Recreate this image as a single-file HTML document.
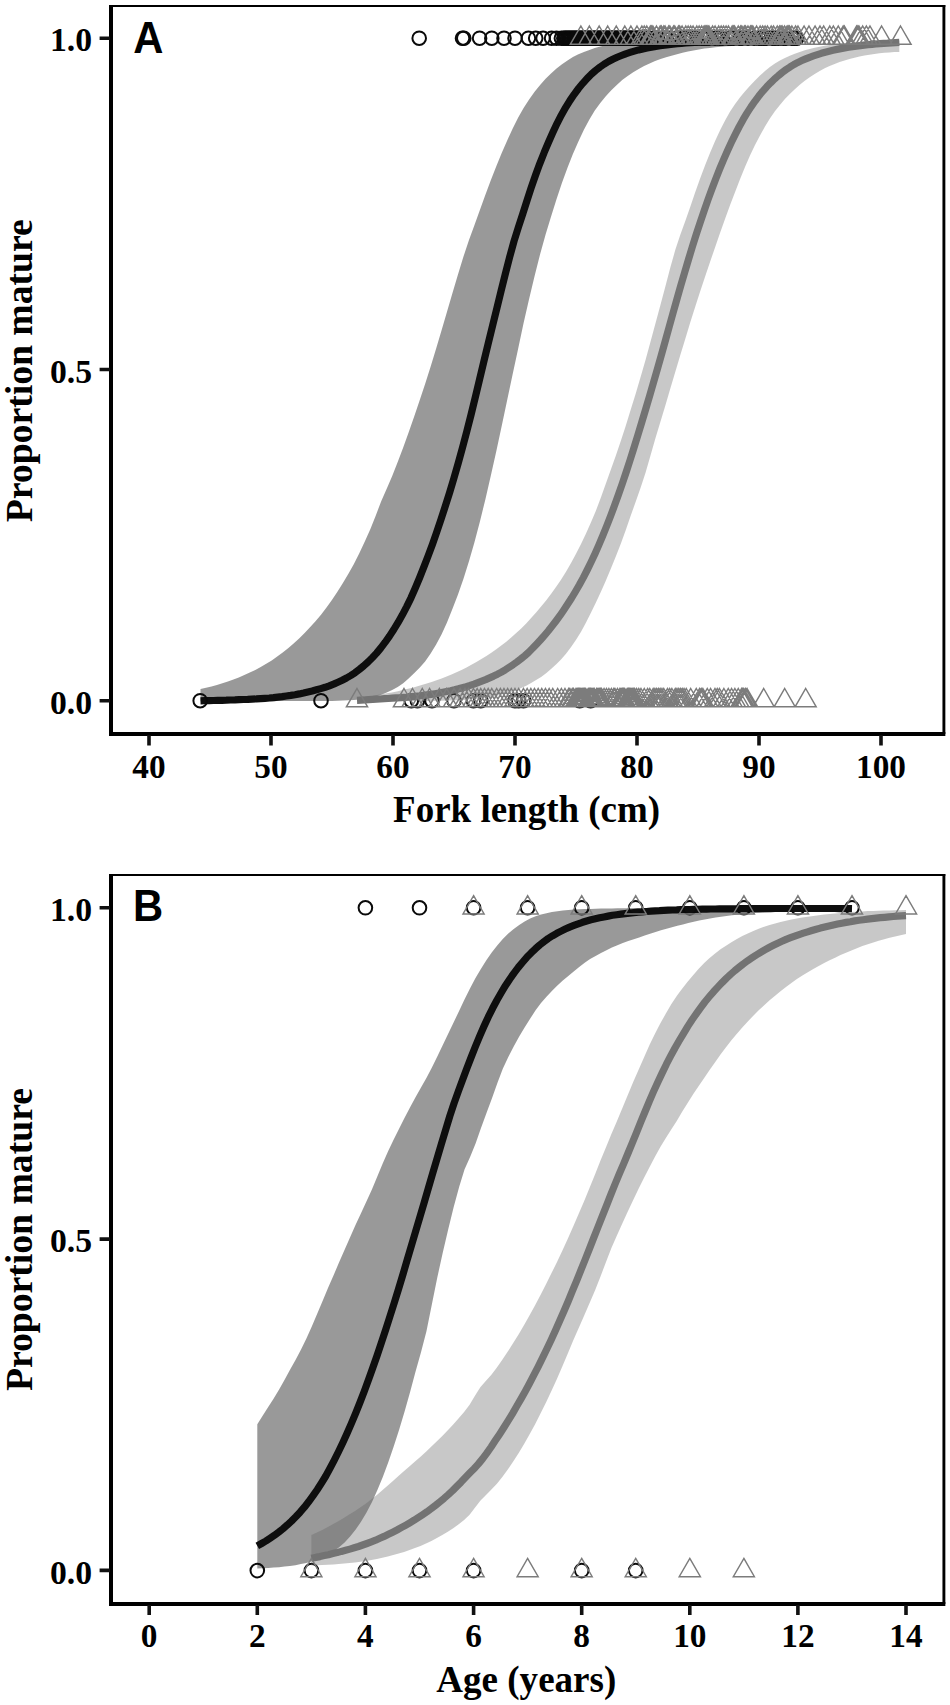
<!DOCTYPE html>
<html lang="en"><head><meta charset="utf-8"><title>Proportion mature by fork length and age</title>
<style>html,body{margin:0;padding:0;background:#fff}svg{display:block}</style></head>
<body>
<svg width="950" height="1705" viewBox="0 0 950 1705">
<rect width="950" height="1705" fill="#fff"/>
<path d="M200.5,689.1 L206,687.8 L211.5,686.4 L216.9,684.9 L222.4,683.3 L227.9,681.5 L233.4,679.5 L238.8,677.4 L244.3,675.1 L249.8,672.6 L255.3,669.9 L260.7,667 L266.2,663.8 L271.7,660.4 L277.2,656.6 L282.7,652.6 L288.1,648.2 L293.6,643.5 L299.1,638.5 L304.6,633.1 L310,627.3 L315.5,621.3 L321,614.7 L326.5,607.6 L331.9,600 L337.4,591.8 L342.9,583.1 L348.4,573.8 L353.9,564 L359.3,553.3 L364.8,541.6 L370.3,529.2 L375.8,515.4 L381.2,501.3 L386.7,488.8 L392.2,476 L397.7,462.1 L403.2,447.6 L408.6,432.5 L414.1,416.8 L419.6,400.6 L425.1,384 L430.5,366.9 L436,349 L441.5,330.5 L447,311.8 L452.4,293.2 L457.9,274.7 L463.4,256.8 L468.9,240.3 L474.4,225.2 L479.8,210.2 L485.3,195 L490.8,180.3 L496.3,166.3 L501.7,153 L507.2,140.5 L512.7,128.4 L518.2,117.5 L523.6,107.9 L529.1,99.4 L534.6,91.8 L540.1,84.9 L545.6,78.8 L551,73.4 L556.5,68.6 L562,64.3 L567.5,60.4 L572.9,57.1 L578.4,54.3 L583.9,51.9 L589.4,49.9 L594.8,48.1 L600.3,46.6 L605.8,45.3 L611.3,44.2 L616.8,43.3 L622.2,42.5 L627.7,41.9 L633.2,41.3 L638.7,40.9 L644.1,40.6 L649.6,40.3 L655.1,40 L660.6,39.7 L666.1,39.5 L671.5,39.3 L677,39.1 L682.5,38.9 L688,38.8 L693.4,38.7 L698.9,38.6 L704.4,38.5 L709.9,38.5 L715.3,38.4 L720.8,38.4 L726.3,38.3 L731.8,38.3 L737.3,38.3 L742.7,38.2 L748.2,38.2 L753.7,38.2 L759.2,38.1 L764.6,38.1 L770.1,38.1 L775.6,38.1 L781.1,38.1 L786.5,38.1 L792,38.1 L797.5,38.1 L797.5,43.5 L792,43.5 L786.5,43.6 L781.1,43.7 L775.6,43.8 L770.1,44 L764.6,44.2 L759.2,44.4 L753.7,44.7 L748.2,44.9 L742.7,45.2 L737.3,45.6 L731.8,45.9 L726.3,46.3 L720.8,46.8 L715.3,47.3 L709.9,47.9 L704.4,48.6 L698.9,49.5 L693.4,50.4 L688,51.6 L682.5,52.8 L677,54.2 L671.5,55.7 L666.1,57.3 L660.6,59.1 L655.1,61.1 L649.6,63.4 L644.1,66 L638.7,68.9 L633.2,72.2 L627.7,75.9 L622.2,80.1 L616.8,84.9 L611.3,90.2 L605.8,96.2 L600.3,102.9 L594.8,110.6 L589.4,119.5 L583.9,129.8 L578.4,141.4 L572.9,154 L567.5,167.7 L562,182.8 L556.5,199.2 L551,216.7 L545.6,234.6 L540.1,254.3 L534.6,276 L529.1,299 L523.6,323.1 L518.2,348.4 L512.7,374.1 L507.2,400.1 L501.7,426 L496.3,451.3 L490.8,475.8 L485.3,499.7 L479.8,522 L474.4,542.4 L468.9,561.6 L463.4,579.1 L457.9,594.8 L452.4,609.1 L447,622.5 L441.5,634.5 L436,644.8 L430.5,653.8 L425.1,661.4 L419.6,667.7 L414.1,673.3 L408.6,678.6 L403.2,683.2 L397.7,686.9 L392.2,690 L386.7,692.6 L381.2,694.7 L375.8,696.4 L370.3,697.6 L364.8,698.6 L359.3,699.4 L353.9,699.9 L348.4,700.3 L342.9,700.6 L337.4,700.8 L331.9,700.9 L326.5,700.9 L321,700.9 L315.5,700.9 L310,701 L304.6,701 L299.1,701 L293.6,701.1 L288.1,701.1 L282.7,701.1 L277.2,701.1 L271.7,701.2 L266.2,701.2 L260.7,701.2 L255.3,701.2 L249.8,701.2 L244.3,701.2 L238.8,701.2 L233.4,701.2 L227.9,701.3 L222.4,701.3 L216.9,701.3 L211.5,701.3 L206,701.3 L200.5,701.3Z" fill="#000" fill-opacity="0.4"/>
<path d="M200.5,700.8 L204.8,700.7 L209.1,700.6 L213.4,700.5 L217.7,700.4 L222,700.3 L226.3,700.2 L230.6,700 L234.9,699.9 L239.2,699.7 L243.4,699.5 L247.7,699.4 L252,699.1 L256.3,698.9 L260.6,698.6 L264.9,698.3 L269.2,698 L273.5,697.6 L277.8,697.1 L282.1,696.6 L286.4,696 L290.7,695.4 L295,694.7 L299.3,693.9 L303.6,693 L307.9,692 L312.2,691 L316.5,689.8 L320.8,688.6 L325.1,687.3 L329.3,685.8 L333.6,684.1 L337.9,682.2 L342.2,680.2 L346.5,678 L350.8,675.5 L355.1,672.7 L359.4,669.4 L363.7,665.9 L368,662 L372.3,657.7 L376.6,653.1 L380.9,647.9 L385.2,642.2 L389.5,636.1 L393.8,629.5 L398.1,622.4 L402.4,614.8 L406.7,606.6 L411,597.8 L415.2,588.2 L419.5,578 L423.8,567.2 L428.1,556 L432.4,544.4 L436.7,532.1 L441,519.3 L445.3,506.2 L449.6,492.6 L453.9,478.3 L458.2,463.2 L462.5,447.6 L466.8,431.4 L471.1,414.5 L475.4,396.8 L479.7,378.8 L484,360.9 L488.3,343.2 L492.6,325.7 L496.9,308.2 L501.1,290.8 L505.4,273.6 L509.7,256.9 L514,241.3 L518.3,227.5 L522.6,214.4 L526.9,200.8 L531.2,187.6 L535.5,175.3 L539.8,163.6 L544.1,152.7 L548.4,142.5 L552.7,132.8 L557,123.6 L561.3,115.2 L565.6,107.6 L569.9,100.6 L574.2,94.3 L578.5,88.5 L582.8,83.3 L587,78.6 L591.3,74.3 L595.6,70.5 L599.9,67.1 L604.2,64.1 L608.5,61.5 L612.8,59.3 L617.1,57.3 L621.4,55.5 L625.7,53.8 L630,52.4 L634.3,51.1 L638.6,49.9 L642.9,48.9 L647.2,48 L651.5,47.2 L655.8,46.4 L660.1,45.8 L664.4,45.2 L668.7,44.6 L672.9,44.2 L677.2,43.7 L681.5,43.3 L685.8,43 L690.1,42.6 L694.4,42.3 L698.7,42 L703,41.8 L707.3,41.5 L711.6,41.3 L715.9,41.1 L720.2,40.9 L724.5,40.7 L728.8,40.6 L733.1,40.5 L737.4,40.3 L741.7,40.2 L746,40.1 L750.3,40.1 L754.6,40 L758.8,39.9 L763.1,39.9 L767.4,39.8 L771.7,39.8 L776,39.7 L780.3,39.7 L784.6,39.7 L788.9,39.7 L793.2,39.8 L797.5,39.8" fill="none" stroke="#0e0e0e" stroke-width="7.2" stroke-linecap="butt" stroke-linejoin="round"/>
<g fill="none" stroke="#0a0a0a" stroke-width="2"><circle cx="419.2" cy="38.2" r="6.8"/><circle cx="462.5" cy="38.2" r="6.8"/><circle cx="463.8" cy="38.2" r="6.8"/><circle cx="479.6" cy="38.2" r="6.8"/><circle cx="491.8" cy="38.2" r="6.8"/><circle cx="504" cy="38.2" r="6.8"/><circle cx="515" cy="38.2" r="6.8"/><circle cx="528.4" cy="38.2" r="6.8"/><circle cx="535.7" cy="38.2" r="6.8"/><circle cx="543.1" cy="38.2" r="6.8"/><circle cx="551.6" cy="38.2" r="6.8"/><circle cx="556.5" cy="38.2" r="6.8"/><circle cx="561.4" cy="38.2" r="6.8"/><circle cx="563.8" cy="38.2" r="6.8"/><circle cx="565" cy="38.2" r="6.8"/><circle cx="566.2" cy="38.2" r="6.8"/><circle cx="567.5" cy="38.2" r="6.8"/><circle cx="568.7" cy="38.2" r="6.8"/><circle cx="569.9" cy="38.2" r="6.8"/><circle cx="571.1" cy="38.2" r="6.8"/><circle cx="572.3" cy="38.2" r="6.8"/><circle cx="573.6" cy="38.2" r="6.8"/><circle cx="574.8" cy="38.2" r="6.8"/><circle cx="576" cy="38.2" r="6.8"/><circle cx="577.2" cy="38.2" r="6.8"/><circle cx="578.4" cy="38.2" r="6.8"/><circle cx="579.7" cy="38.2" r="6.8"/><circle cx="580.9" cy="38.2" r="6.8"/><circle cx="582.1" cy="38.2" r="6.8"/><circle cx="583.3" cy="38.2" r="6.8"/><circle cx="584.5" cy="38.2" r="6.8"/><circle cx="585.8" cy="38.2" r="6.8"/><circle cx="587" cy="38.2" r="6.8"/><circle cx="588.2" cy="38.2" r="6.8"/><circle cx="589.4" cy="38.2" r="6.8"/><circle cx="590.6" cy="38.2" r="6.8"/><circle cx="591.9" cy="38.2" r="6.8"/><circle cx="593.1" cy="38.2" r="6.8"/><circle cx="594.3" cy="38.2" r="6.8"/><circle cx="595.5" cy="38.2" r="6.8"/><circle cx="596.7" cy="38.2" r="6.8"/><circle cx="598" cy="38.2" r="6.8"/><circle cx="599.2" cy="38.2" r="6.8"/><circle cx="600.4" cy="38.2" r="6.8"/><circle cx="601.6" cy="38.2" r="6.8"/><circle cx="602.8" cy="38.2" r="6.8"/><circle cx="604.1" cy="38.2" r="6.8"/><circle cx="605.3" cy="38.2" r="6.8"/><circle cx="606.5" cy="38.2" r="6.8"/><circle cx="607.7" cy="38.2" r="6.8"/><circle cx="608.9" cy="38.2" r="6.8"/><circle cx="610.2" cy="38.2" r="6.8"/><circle cx="611.4" cy="38.2" r="6.8"/><circle cx="612.6" cy="38.2" r="6.8"/><circle cx="613.8" cy="38.2" r="6.8"/><circle cx="615" cy="38.2" r="6.8"/><circle cx="616.3" cy="38.2" r="6.8"/><circle cx="617.5" cy="38.2" r="6.8"/><circle cx="618.7" cy="38.2" r="6.8"/><circle cx="619.9" cy="38.2" r="6.8"/><circle cx="621.1" cy="38.2" r="6.8"/><circle cx="622.4" cy="38.2" r="6.8"/><circle cx="623.6" cy="38.2" r="6.8"/><circle cx="624.8" cy="38.2" r="6.8"/><circle cx="626" cy="38.2" r="6.8"/><circle cx="627.2" cy="38.2" r="6.8"/><circle cx="628.5" cy="38.2" r="6.8"/><circle cx="629.7" cy="38.2" r="6.8"/><circle cx="630.9" cy="38.2" r="6.8"/><circle cx="632.1" cy="38.2" r="6.8"/><circle cx="633.3" cy="38.2" r="6.8"/><circle cx="634.6" cy="38.2" r="6.8"/><circle cx="635.8" cy="38.2" r="6.8"/><circle cx="637" cy="38.2" r="6.8"/><circle cx="638.2" cy="38.2" r="6.8"/><circle cx="639.4" cy="38.2" r="6.8"/><circle cx="640.7" cy="38.2" r="6.8"/><circle cx="641.9" cy="38.2" r="6.8"/><circle cx="645.5" cy="38.2" r="6.8"/><circle cx="648" cy="38.2" r="6.8"/><circle cx="652.9" cy="38.2" r="6.8"/><circle cx="655.3" cy="38.2" r="6.8"/><circle cx="657.7" cy="38.2" r="6.8"/><circle cx="663.8" cy="38.2" r="6.8"/><circle cx="666.3" cy="38.2" r="6.8"/><circle cx="669.9" cy="38.2" r="6.8"/><circle cx="676" cy="38.2" r="6.8"/><circle cx="678.5" cy="38.2" r="6.8"/><circle cx="684.6" cy="38.2" r="6.8"/><circle cx="687" cy="38.2" r="6.8"/><circle cx="689.5" cy="38.2" r="6.8"/><circle cx="691.9" cy="38.2" r="6.8"/><circle cx="696.8" cy="38.2" r="6.8"/><circle cx="701.7" cy="38.2" r="6.8"/><circle cx="704.1" cy="38.2" r="6.8"/><circle cx="706.5" cy="38.2" r="6.8"/><circle cx="709" cy="38.2" r="6.8"/><circle cx="715.1" cy="38.2" r="6.8"/><circle cx="720" cy="38.2" r="6.8"/><circle cx="722.4" cy="38.2" r="6.8"/><circle cx="728.5" cy="38.2" r="6.8"/><circle cx="730.9" cy="38.2" r="6.8"/><circle cx="733.4" cy="38.2" r="6.8"/><circle cx="739.5" cy="38.2" r="6.8"/><circle cx="741.9" cy="38.2" r="6.8"/><circle cx="748" cy="38.2" r="6.8"/><circle cx="754.1" cy="38.2" r="6.8"/><circle cx="759" cy="38.2" r="6.8"/><circle cx="761.4" cy="38.2" r="6.8"/><circle cx="763.9" cy="38.2" r="6.8"/><circle cx="766.3" cy="38.2" r="6.8"/><circle cx="772.4" cy="38.2" r="6.8"/><circle cx="774.9" cy="38.2" r="6.8"/><circle cx="778.5" cy="38.2" r="6.8"/><circle cx="783.4" cy="38.2" r="6.8"/><circle cx="785.8" cy="38.2" r="6.8"/><circle cx="791.9" cy="38.2" r="6.8"/><circle cx="794.4" cy="38.2" r="6.8"/><circle cx="796.8" cy="38.2" r="6.8"/><circle cx="200.2" cy="700.7" r="6.8"/><circle cx="321" cy="700.7" r="6.8"/><circle cx="411.3" cy="700.7" r="6.8"/><circle cx="417.4" cy="700.7" r="6.8"/><circle cx="432" cy="700.7" r="6.8"/><circle cx="454" cy="700.7" r="6.8"/><circle cx="473.5" cy="700.7" r="6.8"/><circle cx="480.8" cy="700.7" r="6.8"/><circle cx="515" cy="700.7" r="6.8"/><circle cx="518.7" cy="700.7" r="6.8"/><circle cx="523.5" cy="700.7" r="6.8"/><circle cx="579.7" cy="700.7" r="6.8"/><circle cx="590.6" cy="700.7" r="6.8"/></g>
<path d="M357,697.4 L362,696.8 L367,696.3 L371.9,695.6 L376.9,694.9 L381.9,694.2 L386.9,693.3 L391.8,692.4 L396.8,691.4 L401.8,690.3 L406.8,689.1 L411.7,687.9 L416.7,686.5 L421.7,685.1 L426.7,683.5 L431.6,681.9 L436.6,680.2 L441.6,678.4 L446.6,676.4 L451.5,674.4 L456.5,672.2 L461.5,669.9 L466.5,667.4 L471.4,664.8 L476.4,662 L481.4,659.1 L486.4,656 L491.3,652.7 L496.3,649.2 L501.3,645.5 L506.3,641.7 L511.2,637.5 L516.2,633.1 L521.2,628.4 L526.2,623.4 L531.1,618.1 L536.1,612.5 L541.1,606.6 L546.1,600.4 L551,593.9 L556,587.1 L561,579.7 L566,571.7 L570.9,563.2 L575.9,554 L580.9,544.2 L585.9,533.8 L590.8,522.7 L595.8,511 L600.8,497.8 L605.8,483.8 L610.7,470.1 L615.7,455.9 L620.7,441.2 L625.7,425.9 L630.6,410.1 L635.6,393.9 L640.6,377.1 L645.6,359.7 L650.5,341.7 L655.5,323.3 L660.5,304.8 L665.5,286.1 L670.4,267.3 L675.4,249.6 L680.4,234.4 L685.4,220.8 L690.3,206.7 L695.3,192 L700.3,178 L705.3,164.8 L710.2,152.4 L715.2,140.8 L720.2,130.1 L725.2,120.3 L730.1,111.5 L735.1,103.9 L740.1,97.2 L745.1,91.2 L750,85.7 L755,80.6 L760,75.6 L765,71 L769.9,67 L774.9,63.6 L779.9,60.6 L784.9,58 L789.8,55.7 L794.8,53.7 L799.8,51.9 L804.8,50.3 L809.7,49 L814.7,47.8 L819.7,46.7 L824.7,45.8 L829.6,45 L834.6,44.3 L839.6,43.7 L844.6,43.1 L849.5,42.7 L854.5,42.2 L859.5,41.9 L864.5,41.6 L869.4,41.3 L874.4,41.1 L879.4,40.9 L884.4,40.7 L889.3,40.6 L894.3,40.4 L899.3,40.4 L899.3,51.9 L894.3,52.1 L889.3,52.4 L884.4,52.8 L879.4,53.3 L874.4,54 L869.4,54.7 L864.5,55.6 L859.5,56.6 L854.5,57.7 L849.5,58.9 L844.6,60.4 L839.6,62 L834.6,63.9 L829.6,65.9 L824.7,68.3 L819.7,70.9 L814.7,73.9 L809.7,77.2 L804.8,80.8 L799.8,84.8 L794.8,89.2 L789.8,93.9 L784.9,99.1 L779.9,104.9 L774.9,111.3 L769.9,118.5 L765,126.6 L760,135.4 L755,145 L750,155.4 L745.1,166.8 L740.1,179.1 L735.1,191.9 L730.1,205.1 L725.2,218.5 L720.2,232.5 L715.2,247 L710.2,261.5 L705.3,276 L700.3,290.9 L695.3,306.4 L690.3,322.3 L685.4,338.4 L680.4,354.8 L675.4,371.5 L670.4,388.3 L665.5,405 L660.5,421.6 L655.5,438.1 L650.5,455.4 L645.6,472.4 L640.6,487.7 L635.6,501.9 L630.6,516.1 L625.7,530.3 L620.7,543.9 L615.7,556.8 L610.7,569.1 L605.8,580.8 L600.8,592 L595.8,602.7 L590.8,612.9 L585.9,622.8 L580.9,632 L575.9,640.1 L570.9,647.2 L566,653.7 L561,659.5 L556,664.6 L551,669.1 L546.1,673.3 L541.1,676.9 L536.1,680.1 L531.1,683.1 L526.2,685.8 L521.2,688.1 L516.2,690.1 L511.2,691.8 L506.3,693.3 L501.3,694.6 L496.3,695.9 L491.3,696.9 L486.4,697.7 L481.4,698.4 L476.4,698.9 L471.4,699.4 L466.5,699.8 L461.5,700.1 L456.5,700.3 L451.5,700.5 L446.6,700.6 L441.6,700.7 L436.6,700.8 L431.6,700.9 L426.7,700.9 L421.7,701 L416.7,701 L411.7,701.1 L406.8,701.1 L401.8,701.2 L396.8,701.2 L391.8,701.2 L386.9,701.3 L381.9,701.3 L376.9,701.3 L371.9,701.3 L367,701.3 L362,701.3 L357,701.3Z" fill="#666" fill-opacity="0.355"/>
<path d="M357,700.4 L360.9,700.2 L364.8,700 L368.7,699.7 L372.6,699.5 L376.5,699.2 L380.4,699 L384.3,698.7 L388.2,698.5 L392.1,698.2 L396,697.9 L399.9,697.7 L403.8,697.4 L407.7,697.1 L411.6,696.7 L415.5,696.3 L419.4,695.9 L423.3,695.4 L427.2,694.9 L431.1,694.4 L435,693.7 L438.9,693.1 L442.8,692.3 L446.7,691.5 L450.6,690.7 L454.5,689.8 L458.4,688.8 L462.3,687.7 L466.2,686.6 L470.1,685.4 L474,684.1 L477.9,682.6 L481.8,681.1 L485.7,679.6 L489.6,677.9 L493.6,676.1 L497.5,674.2 L501.4,672.1 L505.3,669.8 L509.2,667.3 L513.1,664.7 L517,661.9 L520.9,658.9 L524.8,655.7 L528.7,652.2 L532.6,648.3 L536.5,644.2 L540.4,640 L544.3,635.6 L548.2,631 L552.1,626.1 L556,621 L559.9,615.7 L563.8,610 L567.7,604.1 L571.6,598 L575.5,591.5 L579.4,584.8 L583.3,577.6 L587.2,570 L591.1,562 L595,553.7 L598.9,544.9 L602.8,535.7 L606.7,526 L610.6,516 L614.5,505.6 L618.4,494.8 L622.3,483.6 L626.2,472 L630.1,460 L634,447.7 L637.9,435 L641.8,422.1 L645.7,409.1 L649.6,396 L653.5,382.6 L657.4,369 L661.3,355.2 L665.2,341.2 L669.1,327.1 L673,313.1 L676.9,299.3 L680.8,285.6 L684.7,272.2 L688.6,259.1 L692.5,246.3 L696.4,233.9 L700.3,222.1 L704.2,210.6 L708.1,199.4 L712,188.7 L715.9,178.4 L719.8,168.6 L723.7,159.3 L727.6,150.5 L731.5,142.1 L735.4,134.1 L739.3,126.5 L743.2,119.4 L747.1,112.9 L751,106.9 L754.9,101.3 L758.8,96.1 L762.7,91.3 L766.7,86.8 L770.6,82.8 L774.5,79 L778.4,75.6 L782.3,72.4 L786.2,69.5 L790.1,66.9 L794,64.5 L797.9,62.4 L801.8,60.6 L805.7,58.9 L809.6,57.3 L813.5,55.9 L817.4,54.6 L821.3,53.3 L825.2,52.2 L829.1,51.2 L833,50.2 L836.9,49.4 L840.8,48.6 L844.7,47.9 L848.6,47.2 L852.5,46.6 L856.4,46.1 L860.3,45.6 L864.2,45.1 L868.1,44.7 L872,44.3 L875.9,44 L879.8,43.6 L883.7,43.3 L887.6,43.1 L891.5,42.8 L895.4,42.6 L899.3,42.4" fill="none" stroke="#737373" stroke-width="7.2" stroke-linecap="butt" stroke-linejoin="round"/>
<path fill="none" stroke="#7c7c7c" stroke-width="1.45" stroke-linejoin="miter" d="M580.9,26 L591.4,44.3 L570.3,44.3Z M589.4,26 L600,44.3 L578.9,44.3Z M599.2,26 L609.7,44.3 L588.6,44.3Z M607.7,26 L618.3,44.3 L597.2,44.3Z M616.3,26 L626.8,44.3 L605.7,44.3Z M624.8,26 L635.4,44.3 L614.2,44.3Z M630.9,26 L641.5,44.3 L620.3,44.3Z M637,26 L647.6,44.3 L626.4,44.3Z M641.9,26 L652.4,44.3 L631.3,44.3Z M644.3,26 L654.9,44.3 L633.8,44.3Z M646.8,26 L657.3,44.3 L636.2,44.3Z M650.4,26 L661,44.3 L639.9,44.3Z M651.6,26 L662.2,44.3 L641.1,44.3Z M652.9,26 L663.4,44.3 L642.3,44.3Z M656.5,26 L667.1,44.3 L646,44.3Z M660.2,26 L670.7,44.3 L649.6,44.3Z M661.4,26 L672,44.3 L650.8,44.3Z M663.8,26 L674.4,44.3 L653.3,44.3Z M665.1,26 L675.6,44.3 L654.5,44.3Z M668.7,26 L679.3,44.3 L658.2,44.3Z M669.9,26 L680.5,44.3 L659.4,44.3Z M673.6,26 L684.2,44.3 L663,44.3Z M674.8,26 L685.4,44.3 L664.3,44.3Z M678.5,26 L689,44.3 L667.9,44.3Z M679.7,26 L690.3,44.3 L669.1,44.3Z M682.1,26 L692.7,44.3 L671.6,44.3Z M685.8,26 L696.4,44.3 L675.2,44.3Z M688.2,26 L698.8,44.3 L677.7,44.3Z M690.7,26 L701.2,44.3 L680.1,44.3Z M693.1,26 L703.7,44.3 L682.6,44.3Z M696.8,26 L707.3,44.3 L686.2,44.3Z M699.2,26 L709.8,44.3 L688.7,44.3Z M701.7,26 L712.2,44.3 L691.1,44.3Z M704.1,26 L714.7,44.3 L693.5,44.3Z M705.3,26 L715.9,44.3 L694.8,44.3Z M706.5,26 L717.1,44.3 L696,44.3Z M707.8,26 L718.3,44.3 L697.2,44.3Z M709,26 L719.5,44.3 L698.4,44.3Z M712.6,26 L723.2,44.3 L702.1,44.3Z M715.1,26 L725.6,44.3 L704.5,44.3Z M718.7,26 L729.3,44.3 L708.2,44.3Z M721.2,26 L731.7,44.3 L710.6,44.3Z M723.6,26 L734.2,44.3 L713.1,44.3Z M726.1,26 L736.6,44.3 L715.5,44.3Z M728.5,26 L739.1,44.3 L717.9,44.3Z M732.2,26 L742.7,44.3 L721.6,44.3Z M733.4,26 L743.9,44.3 L722.8,44.3Z M734.6,26 L745.2,44.3 L724,44.3Z M738.3,26 L748.8,44.3 L727.7,44.3Z M740.7,26 L751.3,44.3 L730.1,44.3Z M741.9,26 L752.5,44.3 L731.4,44.3Z M744.4,26 L754.9,44.3 L733.8,44.3Z M745.6,26 L756.1,44.3 L735,44.3Z M748,26 L758.6,44.3 L737.5,44.3Z M750.5,26 L761,44.3 L739.9,44.3Z M751.7,26 L762.2,44.3 L741.1,44.3Z M752.9,26 L763.5,44.3 L742.3,44.3Z M756.6,26 L767.1,44.3 L746,44.3Z M760.2,26 L770.8,44.3 L749.7,44.3Z M762.7,26 L773.2,44.3 L752.1,44.3Z M765.1,26 L775.7,44.3 L754.5,44.3Z M767.5,26 L778.1,44.3 L757,44.3Z M771.2,26 L781.8,44.3 L760.6,44.3Z M773.6,26 L784.2,44.3 L763.1,44.3Z M777.3,26 L787.9,44.3 L766.7,44.3Z M779.7,26 L790.3,44.3 L769.2,44.3Z M781,26 L791.5,44.3 L770.4,44.3Z M782.2,26 L792.7,44.3 L771.6,44.3Z M784.6,26 L795.2,44.3 L774.1,44.3Z M787.1,26 L797.6,44.3 L776.5,44.3Z M788.3,26 L798.8,44.3 L777.7,44.3Z M789.5,26 L800.1,44.3 L778.9,44.3Z M791.9,26 L802.5,44.3 L781.4,44.3Z M795.6,26 L806.2,44.3 L785,44.3Z M798,26 L808.6,44.3 L787.5,44.3Z M804.1,26 L814.7,44.3 L793.6,44.3Z M809,26 L819.6,44.3 L798.5,44.3Z M815.1,26 L825.7,44.3 L804.6,44.3Z M820,26 L830.6,44.3 L809.4,44.3Z M823.7,26 L834.2,44.3 L813.1,44.3Z M829.8,26 L840.3,44.3 L819.2,44.3Z M833.4,26 L844,44.3 L822.9,44.3Z M838.3,26 L848.9,44.3 L827.7,44.3Z M843.2,26 L853.7,44.3 L832.6,44.3Z M844.4,26 L855,44.3 L833.8,44.3Z M856.6,26 L867.2,44.3 L846,44.3Z M857.8,26 L868.4,44.3 L847.3,44.3Z M859,26 L869.6,44.3 L848.5,44.3Z M862.7,26 L873.3,44.3 L852.1,44.3Z M866.4,26 L876.9,44.3 L855.8,44.3Z M870,26 L880.6,44.3 L859.5,44.3Z M881.6,26 L892.2,44.3 L871,44.3Z M900.5,26 L911.1,44.3 L890,44.3Z M357,688.5 L367.6,706.8 L346.4,706.8Z M404,688.5 L414.5,706.8 L393.4,706.8Z M412.5,688.5 L423.1,706.8 L402,706.8Z M422.3,688.5 L432.8,706.8 L411.7,706.8Z M429.6,688.5 L440.2,706.8 L419,706.8Z M439.4,688.5 L449.9,706.8 L428.8,706.8Z M446.7,688.5 L457.2,706.8 L436.1,706.8Z M454,688.5 L464.6,706.8 L443.4,706.8Z M460.1,688.5 L470.7,706.8 L449.5,706.8Z M465,688.5 L475.5,706.8 L454.4,706.8Z M468.6,688.5 L479.2,706.8 L458.1,706.8Z M473.5,688.5 L484.1,706.8 L463,706.8Z M477.2,688.5 L487.7,706.8 L466.6,706.8Z M480.8,688.5 L491.4,706.8 L470.3,706.8Z M484.5,688.5 L495.1,706.8 L473.9,706.8Z M488.2,688.5 L498.7,706.8 L477.6,706.8Z M491.8,688.5 L502.4,706.8 L481.3,706.8Z M496.7,688.5 L507.3,706.8 L486.1,706.8Z M500.4,688.5 L510.9,706.8 L489.8,706.8Z M504,688.5 L514.6,706.8 L493.5,706.8Z M507.7,688.5 L518.2,706.8 L497.1,706.8Z M511.3,688.5 L521.9,706.8 L500.8,706.8Z M515,688.5 L525.6,706.8 L504.4,706.8Z M518.7,688.5 L529.2,706.8 L508.1,706.8Z M523.5,688.5 L534.1,706.8 L513,706.8Z M527.2,688.5 L537.8,706.8 L516.6,706.8Z M530.9,688.5 L541.4,706.8 L520.3,706.8Z M534.5,688.5 L545.1,706.8 L524,706.8Z M538.2,688.5 L548.7,706.8 L527.6,706.8Z M541.8,688.5 L552.4,706.8 L531.3,706.8Z M545.5,688.5 L556.1,706.8 L534.9,706.8Z M549.2,688.5 L559.7,706.8 L538.6,706.8Z M552.8,688.5 L563.4,706.8 L542.3,706.8Z M557.7,688.5 L568.3,706.8 L547.1,706.8Z M561.4,688.5 L571.9,706.8 L550.8,706.8Z M565,688.5 L575.6,706.8 L554.5,706.8Z M568.7,688.5 L579.2,706.8 L558.1,706.8Z M569.9,688.5 L580.5,706.8 L559.3,706.8Z M572.3,688.5 L582.9,706.8 L561.8,706.8Z M573.6,688.5 L584.1,706.8 L563,706.8Z M576,688.5 L586.6,706.8 L565.4,706.8Z M577.2,688.5 L587.8,706.8 L566.7,706.8Z M578.4,688.5 L589,706.8 L567.9,706.8Z M579.7,688.5 L590.2,706.8 L569.1,706.8Z M580.9,688.5 L591.4,706.8 L570.3,706.8Z M582.1,688.5 L592.7,706.8 L571.5,706.8Z M583.3,688.5 L593.9,706.8 L572.8,706.8Z M584.5,688.5 L595.1,706.8 L574,706.8Z M585.8,688.5 L596.3,706.8 L575.2,706.8Z M588.2,688.5 L598.8,706.8 L577.6,706.8Z M589.4,688.5 L600,706.8 L578.9,706.8Z M590.6,688.5 L601.2,706.8 L580.1,706.8Z M591.9,688.5 L602.4,706.8 L581.3,706.8Z M593.1,688.5 L603.6,706.8 L582.5,706.8Z M594.3,688.5 L604.9,706.8 L583.7,706.8Z M596.7,688.5 L607.3,706.8 L586.2,706.8Z M598,688.5 L608.5,706.8 L587.4,706.8Z M599.2,688.5 L609.7,706.8 L588.6,706.8Z M600.4,688.5 L611,706.8 L589.8,706.8Z M601.6,688.5 L612.2,706.8 L591.1,706.8Z M604.1,688.5 L614.6,706.8 L593.5,706.8Z M606.5,688.5 L617.1,706.8 L595.9,706.8Z M608.9,688.5 L619.5,706.8 L598.4,706.8Z M611.4,688.5 L621.9,706.8 L600.8,706.8Z M613.8,688.5 L624.4,706.8 L603.3,706.8Z M615,688.5 L625.6,706.8 L604.5,706.8Z M617.5,688.5 L628,706.8 L606.9,706.8Z M619.9,688.5 L630.5,706.8 L609.4,706.8Z M621.1,688.5 L631.7,706.8 L610.6,706.8Z M622.4,688.5 L632.9,706.8 L611.8,706.8Z M623.6,688.5 L634.1,706.8 L613,706.8Z M624.8,688.5 L635.4,706.8 L614.2,706.8Z M627.2,688.5 L637.8,706.8 L616.7,706.8Z M628.5,688.5 L639,706.8 L617.9,706.8Z M629.7,688.5 L640.2,706.8 L619.1,706.8Z M630.9,688.5 L641.5,706.8 L620.3,706.8Z M632.1,688.5 L642.7,706.8 L621.6,706.8Z M633.3,688.5 L643.9,706.8 L622.8,706.8Z M634.6,688.5 L645.1,706.8 L624,706.8Z M636.6,688.5 L647.1,706.8 L626,706.8Z M638.8,688.5 L649.4,706.8 L628.2,706.8Z M641,688.5 L651.6,706.8 L630.4,706.8Z M644.3,688.5 L654.9,706.8 L633.7,706.8Z M647.6,688.5 L658.2,706.8 L637.1,706.8Z M649.8,688.5 L660.4,706.8 L639.3,706.8Z M653.2,688.5 L663.7,706.8 L642.6,706.8Z M654.9,688.5 L665.5,706.8 L644.4,706.8Z M656.7,688.5 L667.3,706.8 L646.1,706.8Z M658.5,688.5 L669,706.8 L647.9,706.8Z M660.2,688.5 L670.8,706.8 L649.7,706.8Z M662,688.5 L672.6,706.8 L651.4,706.8Z M663.8,688.5 L674.3,706.8 L653.2,706.8Z M667.5,688.5 L678.1,706.8 L657,706.8Z M669.7,688.5 L680.3,706.8 L659.2,706.8Z M671.9,688.5 L682.5,706.8 L661.4,706.8Z M675.3,688.5 L685.8,706.8 L664.7,706.8Z M677,688.5 L687.6,706.8 L666.5,706.8Z M678.8,688.5 L689.4,706.8 L668.2,706.8Z M680.6,688.5 L691.1,706.8 L670,706.8Z M682.3,688.5 L692.9,706.8 L671.8,706.8Z M684.1,688.5 L694.7,706.8 L673.5,706.8Z M686.3,688.5 L696.9,706.8 L675.7,706.8Z M690.7,688.5 L701.3,706.8 L680.2,706.8Z M696.3,688.5 L706.8,706.8 L685.7,706.8Z M699.6,688.5 L710.1,706.8 L689,706.8Z M701.3,688.5 L711.9,706.8 L690.8,706.8Z M702.9,688.5 L713.5,706.8 L692.3,706.8Z M707.3,688.5 L717.9,706.8 L696.7,706.8Z M710.6,688.5 L721.2,706.8 L700.1,706.8Z M715,688.5 L725.6,706.8 L704.5,706.8Z M717.3,688.5 L727.8,706.8 L706.7,706.8Z M719.5,688.5 L730,706.8 L708.9,706.8Z M723.9,688.5 L734.5,706.8 L713.3,706.8Z M728.3,688.5 L738.9,706.8 L717.7,706.8Z M731.6,688.5 L742.2,706.8 L721.1,706.8Z M734.9,688.5 L745.5,706.8 L724.4,706.8Z M738.3,688.5 L748.8,706.8 L727.7,706.8Z M741.6,688.5 L752.1,706.8 L731,706.8Z M742.7,688.5 L753.2,706.8 L732.1,706.8Z M743.8,688.5 L754.3,706.8 L733.2,706.8Z M745.6,688.5 L756.1,706.8 L735,706.8Z M747.1,688.5 L757.7,706.8 L736.5,706.8Z M763.7,688.5 L774.2,706.8 L753.1,706.8Z M784.7,688.5 L795.2,706.8 L774.1,706.8Z M805.7,688.5 L816.2,706.8 L795.1,706.8Z"/>
<path d="M257.3,1424.3 L262.8,1415.5 L268.2,1406.9 L273.7,1398.5 L279.1,1389.4 L284.6,1379.8 L290,1369.7 L295.5,1359.9 L300.9,1349.7 L306.4,1338.5 L311.9,1326.2 L317.3,1313.4 L322.8,1300.4 L328.2,1287.6 L333.7,1275 L339.1,1262.3 L344.6,1249.7 L350.1,1237.2 L355.5,1225.1 L361,1213.2 L366.4,1201.4 L371.9,1189.4 L377.3,1176.5 L382.8,1163.3 L388.2,1150.9 L393.7,1139.6 L399.2,1128.6 L404.6,1117.8 L410.1,1107.2 L415.5,1097.2 L421,1087.6 L426.4,1077.9 L431.9,1067.5 L437.3,1056.4 L442.8,1045.1 L448.3,1033.6 L453.7,1022.2 L459.2,1010.8 L464.6,999.3 L470.1,988.2 L475.5,977.9 L481,968.7 L486.5,960.1 L491.9,952.3 L497.4,945.2 L502.8,938.9 L508.3,933.5 L513.7,928.9 L519.2,924.9 L524.6,921.5 L530.1,918.6 L535.6,916.3 L541,914.6 L546.5,913.2 L551.9,912.1 L557.4,911.2 L562.8,910.6 L568.3,910 L573.7,909.6 L579.2,909.3 L584.7,909.1 L590.1,908.9 L595.6,908.8 L601,908.6 L606.5,908.5 L611.9,908.4 L617.4,908.3 L622.8,908.2 L628.3,908.2 L633.8,908.1 L639.2,908.1 L644.7,908 L650.1,908 L655.6,908 L661,907.9 L666.5,907.9 L672,907.9 L677.4,907.9 L682.9,907.8 L688.3,907.8 L693.8,907.8 L699.2,907.7 L704.7,907.7 L710.1,907.7 L715.6,907.7 L721.1,907.6 L726.5,907.6 L732,907.6 L737.4,907.6 L742.9,907.6 L748.3,907.5 L753.8,907.5 L759.2,907.5 L764.7,907.5 L770.2,907.5 L775.6,907.5 L781.1,907.4 L786.5,907.4 L792,907.4 L797.4,907.4 L802.9,907.4 L808.4,907.4 L813.8,907.4 L819.3,907.4 L824.7,907.4 L830.2,907.4 L835.6,907.4 L841.1,907.4 L846.5,907.4 L852,907.4 L852,909.3 L846.5,909.4 L841.1,909.4 L835.6,909.5 L830.2,909.6 L824.7,909.7 L819.3,909.8 L813.8,909.9 L808.4,910.1 L802.9,910.2 L797.4,910.4 L792,910.7 L786.5,910.9 L781.1,911.2 L775.6,911.5 L770.2,911.9 L764.7,912.3 L759.2,912.7 L753.8,913.1 L748.3,913.6 L742.9,914.1 L737.4,914.7 L732,915.3 L726.5,916 L721.1,916.7 L715.6,917.5 L710.1,918.4 L704.7,919.4 L699.2,920.5 L693.8,921.7 L688.3,923 L682.9,924.4 L677.4,925.8 L672,927.3 L666.5,928.8 L661,930.3 L655.6,932 L650.1,933.7 L644.7,935.5 L639.2,937.4 L633.8,939.2 L628.3,941 L622.8,943 L617.4,945.2 L611.9,947.6 L606.5,950.2 L601,952.9 L595.6,955.9 L590.1,959.1 L584.7,962.7 L579.2,967 L573.7,971.5 L568.3,976 L562.8,980.6 L557.4,985.5 L551.9,990.9 L546.5,996.7 L541,1003 L535.6,1010.2 L530.1,1018.8 L524.6,1027.4 L519.2,1036.6 L513.7,1046.4 L508.3,1057.1 L502.8,1068.8 L497.4,1082.9 L491.9,1098.4 L486.5,1112.9 L481,1128 L475.5,1143.8 L470.1,1156.9 L464.6,1169.2 L459.2,1186.7 L453.7,1206.9 L448.3,1229.1 L442.8,1252.5 L437.3,1277.5 L431.9,1304.2 L426.4,1331.5 L421,1352.2 L415.5,1371.8 L410.1,1391.9 L404.6,1411.4 L399.2,1429.6 L393.7,1446.6 L388.2,1462.5 L382.8,1477.1 L377.3,1490.3 L371.9,1502.2 L366.4,1512.7 L361,1521.8 L355.5,1529.8 L350.1,1536.6 L344.6,1542.4 L339.1,1547.3 L333.7,1551.2 L328.2,1554.3 L322.8,1557.1 L317.3,1559.4 L311.9,1561.3 L306.4,1562.9 L300.9,1564.1 L295.5,1565.2 L290,1566 L284.6,1566.6 L279.1,1567.2 L273.7,1567.6 L268.2,1568 L262.8,1568.3 L257.3,1568.5Z" fill="#000" fill-opacity="0.4"/>
<path d="M257.3,1545.9 L261.6,1543.5 L265.9,1541 L270.1,1538.2 L274.4,1535.3 L278.7,1532.1 L283,1528.7 L287.2,1525.1 L291.5,1521.1 L295.8,1516.8 L300.1,1512.2 L304.4,1507.2 L308.6,1501.8 L312.9,1495.9 L317.2,1489.7 L321.5,1483 L325.8,1476 L330,1468.3 L334.3,1460.1 L338.6,1451.5 L342.9,1442.5 L347.1,1433.2 L351.4,1423.4 L355.7,1413.1 L360,1402.4 L364.3,1391.3 L368.5,1379.8 L372.8,1367.8 L377.1,1355.5 L381.4,1342.7 L385.7,1329.7 L389.9,1316.5 L394.2,1303 L398.5,1289.1 L402.8,1274.9 L407,1260.5 L411.3,1246 L415.6,1231.4 L419.9,1217 L424.2,1202.5 L428.4,1187.9 L432.7,1173.2 L437,1158.7 L441.3,1144.3 L445.6,1130 L449.8,1116.1 L454.1,1103.1 L458.4,1091.1 L462.7,1079.6 L466.9,1068.3 L471.2,1057.1 L475.5,1046.2 L479.8,1035.8 L484.1,1026 L488.3,1016.9 L492.6,1008.3 L496.9,1000.3 L501.2,992.8 L505.4,985.7 L509.7,979.2 L514,973.1 L518.3,967.4 L522.6,962.2 L526.8,957.3 L531.1,952.9 L535.4,948.8 L539.7,945 L544,941.6 L548.2,938.5 L552.5,935.8 L556.8,933.3 L561.1,931.1 L565.3,929 L569.6,927.1 L573.9,925.4 L578.2,923.8 L582.5,922.3 L586.7,921 L591,919.8 L595.3,918.8 L599.6,917.8 L603.9,916.9 L608.1,916.1 L612.4,915.3 L616.7,914.7 L621,914.1 L625.2,913.6 L629.5,913.1 L633.8,912.6 L638.1,912.2 L642.4,911.9 L646.6,911.5 L650.9,911.2 L655.2,910.9 L659.5,910.7 L663.7,910.4 L668,910.2 L672.3,910 L676.6,909.9 L680.9,909.7 L685.1,909.6 L689.4,909.5 L693.7,909.4 L698,909.3 L702.3,909.2 L706.5,909.1 L710.8,909 L715.1,909 L719.4,908.9 L723.6,908.9 L727.9,908.8 L732.2,908.8 L736.5,908.8 L740.8,908.7 L745,908.7 L749.3,908.7 L753.6,908.6 L757.9,908.6 L762.2,908.6 L766.4,908.6 L770.7,908.6 L775,908.5 L779.3,908.5 L783.5,908.5 L787.8,908.5 L792.1,908.5 L796.4,908.5 L800.7,908.5 L804.9,908.5 L809.2,908.5 L813.5,908.5 L817.8,908.5 L822.1,908.5 L826.3,908.5 L830.6,908.5 L834.9,908.5 L839.2,908.6 L843.4,908.6 L847.7,908.6 L852,908.7" fill="none" stroke="#0e0e0e" stroke-width="7.2" stroke-linecap="butt" stroke-linejoin="round"/>
<g fill="none" stroke="#0a0a0a" stroke-width="2"><circle cx="365.4" cy="907.8" r="6.8"/><circle cx="419.5" cy="907.8" r="6.8"/><circle cx="473.6" cy="907.8" r="6.8"/><circle cx="527.6" cy="907.8" r="6.8"/><circle cx="581.7" cy="907.8" r="6.8"/><circle cx="635.7" cy="907.8" r="6.8"/><circle cx="689.8" cy="907.8" r="6.8"/><circle cx="743.9" cy="907.8" r="6.8"/><circle cx="797.9" cy="907.8" r="6.8"/><circle cx="852" cy="907.8" r="6.8"/><circle cx="257.3" cy="1570.6" r="6.8"/><circle cx="311.4" cy="1570.6" r="6.8"/><circle cx="365.4" cy="1570.6" r="6.8"/><circle cx="419.5" cy="1570.6" r="6.8"/><circle cx="473.6" cy="1570.6" r="6.8"/><circle cx="581.7" cy="1570.6" r="6.8"/><circle cx="635.7" cy="1570.6" r="6.8"/></g>
<path d="M311.4,1534.9 L316.9,1532.5 L322.3,1529.9 L327.8,1527.1 L333.2,1524.1 L338.7,1521 L344.1,1517.7 L349.6,1514.3 L355,1510.9 L360.5,1507.2 L366,1503.4 L371.4,1499.3 L376.9,1494.9 L382.3,1490.3 L387.8,1485.5 L393.2,1480.7 L398.7,1475.8 L404.1,1471.1 L409.6,1466.3 L415,1461.6 L420.5,1456.7 L426,1451.7 L431.4,1446.6 L436.9,1441.3 L442.3,1435.9 L447.8,1430.3 L453.2,1424.4 L458.7,1418.3 L464.1,1412 L469.6,1404.8 L475.1,1395.4 L480.5,1387 L486,1380.8 L491.4,1374.7 L496.9,1367.4 L502.3,1359.7 L507.8,1351.6 L513.2,1343.1 L518.7,1334.2 L524.1,1324.9 L529.6,1315.3 L535.1,1305.3 L540.5,1294.9 L546,1284.2 L551.4,1273.3 L556.9,1262.2 L562.3,1250.7 L567.8,1238.7 L573.2,1226.4 L578.7,1213.8 L584.2,1200.9 L589.6,1187.7 L595.1,1174.2 L600.5,1160.6 L606,1147.2 L611.4,1134.1 L616.9,1121.2 L622.3,1108.2 L627.8,1095.1 L633.2,1082.1 L638.7,1069.4 L644.2,1057 L649.6,1044.8 L655.1,1033.4 L660.5,1023.1 L666,1013.3 L671.4,1004.1 L676.9,995.8 L682.3,988.4 L687.8,981.5 L693.3,974.9 L698.7,968.7 L704.2,963.1 L709.6,958.1 L715.1,953.5 L720.5,949.3 L726,945.7 L731.4,942.3 L736.9,939.1 L742.3,936.1 L747.8,933.4 L753.3,930.9 L758.7,928.7 L764.2,926.8 L769.6,925 L775.1,923.5 L780.5,922 L786,920.7 L791.4,919.6 L796.9,918.5 L802.4,917.6 L807.8,916.7 L813.3,916 L818.7,915.2 L824.2,914.6 L829.6,914 L835.1,913.5 L840.5,912.9 L846,912.5 L851.4,912.1 L856.9,911.7 L862.4,911.4 L867.8,911.1 L873.3,910.9 L878.7,910.7 L884.2,910.5 L889.6,910.4 L895.1,910.3 L900.5,910.2 L906,910.1 L906,934.1 L900.5,935.2 L895.1,936.4 L889.6,937.7 L884.2,939.2 L878.7,940.7 L873.3,942.4 L867.8,944.2 L862.4,946.1 L856.9,948.2 L851.4,950.4 L846,952.7 L840.5,955.1 L835.1,957.7 L829.6,960.3 L824.2,963.1 L818.7,966 L813.3,969 L807.8,972.2 L802.4,975.5 L796.9,979.1 L791.4,983 L786,987 L780.5,991.2 L775.1,995.7 L769.6,1000.3 L764.2,1005.2 L758.7,1010.3 L753.3,1015.7 L747.8,1021.4 L742.3,1027.4 L736.9,1033.7 L731.4,1040.3 L726,1047.3 L720.5,1054.6 L715.1,1062.2 L709.6,1070 L704.2,1077.9 L698.7,1085.9 L693.3,1094.1 L687.8,1102.7 L682.3,1111.5 L676.9,1120.7 L671.4,1129.2 L666,1137.7 L660.5,1146.7 L655.1,1156.6 L649.6,1166.9 L644.2,1177.6 L638.7,1188.6 L633.2,1200 L627.8,1211.5 L622.3,1223.4 L616.9,1235.5 L611.4,1248.1 L606,1262 L600.5,1276.5 L595.1,1290.2 L589.6,1302.9 L584.2,1315.5 L578.7,1328 L573.2,1340.5 L567.8,1353.5 L562.3,1366.6 L556.9,1379 L551.4,1390.9 L546,1402.4 L540.5,1413.5 L535.1,1424.2 L529.6,1434.3 L524.1,1444 L518.7,1453.1 L513.2,1461.6 L507.8,1469.5 L502.3,1477 L496.9,1483.7 L491.4,1489.5 L486,1495 L480.5,1500.6 L475.1,1507.4 L469.6,1514.7 L464.1,1519.9 L458.7,1524.3 L453.2,1528.2 L447.8,1531.8 L442.3,1535.1 L436.9,1538.1 L431.4,1541 L426,1543.5 L420.5,1545.9 L415,1548.1 L409.6,1550 L404.1,1551.9 L398.7,1553.6 L393.2,1555.1 L387.8,1556.5 L382.3,1557.8 L376.9,1558.9 L371.4,1560 L366,1560.9 L360.5,1561.7 L355,1562.4 L349.6,1563 L344.1,1563.5 L338.7,1564 L333.2,1564.4 L327.8,1564.7 L322.3,1565 L316.9,1565.2 L311.4,1565.4Z" fill="#666" fill-opacity="0.355"/>
<path d="M311.4,1558.3 L315.7,1557.4 L320,1556.6 L324.2,1555.6 L328.5,1554.7 L332.8,1553.6 L337.1,1552.6 L341.3,1551.4 L345.6,1550.3 L349.9,1549.1 L354.2,1547.8 L358.5,1546.5 L362.7,1545 L367,1543.5 L371.3,1541.9 L375.6,1540.2 L379.8,1538.3 L384.1,1536.4 L388.4,1534.3 L392.7,1532.2 L397,1530 L401.2,1527.7 L405.5,1525.3 L409.8,1522.8 L414.1,1520.2 L418.3,1517.5 L422.6,1514.7 L426.9,1511.8 L431.2,1508.7 L435.5,1505.4 L439.7,1502 L444,1498.4 L448.3,1494.6 L452.6,1490.6 L456.8,1486.4 L461.1,1482.1 L465.4,1477.6 L469.7,1473.1 L474,1468.7 L478.2,1464.1 L482.5,1458.9 L486.8,1453.1 L491.1,1447 L495.3,1440.6 L499.6,1434.2 L503.9,1427.5 L508.2,1420.7 L512.5,1413.6 L516.7,1406.3 L521,1398.9 L525.3,1391.2 L529.6,1383.3 L533.8,1375.2 L538.1,1366.8 L542.4,1358.2 L546.7,1349.3 L551,1340.2 L555.2,1330.9 L559.5,1321.3 L563.8,1311.5 L568.1,1301.5 L572.3,1291.2 L576.6,1280.8 L580.9,1270.2 L585.2,1259.5 L589.5,1248.7 L593.7,1237.9 L598,1227 L602.3,1216.2 L606.6,1205.4 L610.8,1194.6 L615.1,1184 L619.4,1173.7 L623.7,1163.6 L627.9,1153.5 L632.2,1143.2 L636.5,1132.6 L640.8,1121.9 L645.1,1111.5 L649.3,1101.3 L653.6,1091.4 L657.9,1082 L662.2,1072.9 L666.4,1064.2 L670.7,1055.9 L675,1048 L679.3,1040.5 L683.6,1033.3 L687.8,1026.4 L692.1,1019.8 L696.4,1013.6 L700.7,1007.6 L704.9,1002 L709.2,996.8 L713.5,991.8 L717.8,987.1 L722.1,982.6 L726.3,978.4 L730.6,974.4 L734.9,970.6 L739.2,967.1 L743.4,963.8 L747.7,960.7 L752,957.8 L756.3,955 L760.6,952.4 L764.8,949.9 L769.1,947.5 L773.4,945.3 L777.7,943.2 L781.9,941.3 L786.2,939.4 L790.5,937.7 L794.8,936.1 L799.1,934.6 L803.3,933.2 L807.6,931.8 L811.9,930.5 L816.2,929.3 L820.4,928.1 L824.7,927 L829,926 L833.3,925 L837.6,924.1 L841.8,923.2 L846.1,922.4 L850.4,921.7 L854.7,920.9 L858.9,920.3 L863.2,919.7 L867.5,919.1 L871.8,918.6 L876.1,918.1 L880.3,917.7 L884.6,917.3 L888.9,916.9 L893.2,916.5 L897.4,916.2 L901.7,915.9 L906,915.7" fill="none" stroke="#737373" stroke-width="7.2" stroke-linecap="butt" stroke-linejoin="round"/>
<path fill="none" stroke="#7c7c7c" stroke-width="1.45" stroke-linejoin="miter" d="M473.6,895.6 L484.1,913.9 L463,913.9Z M527.6,895.6 L538.2,913.9 L517.1,913.9Z M581.7,895.6 L592.2,913.9 L571.1,913.9Z M635.7,895.6 L646.3,913.9 L625.2,913.9Z M689.8,895.6 L700.4,913.9 L679.2,913.9Z M743.9,895.6 L754.4,913.9 L733.3,913.9Z M797.9,895.6 L808.5,913.9 L787.4,913.9Z M852,895.6 L862.5,913.9 L841.4,913.9Z M906,895.6 L916.6,913.9 L895.5,913.9Z M311.4,1558.4 L321.9,1576.7 L300.8,1576.7Z M365.4,1558.4 L376,1576.7 L354.9,1576.7Z M419.5,1558.4 L430.1,1576.7 L408.9,1576.7Z M473.6,1558.4 L484.1,1576.7 L463,1576.7Z M527.6,1558.4 L538.2,1576.7 L517.1,1576.7Z M581.7,1558.4 L592.2,1576.7 L571.1,1576.7Z M635.7,1558.4 L646.3,1576.7 L625.2,1576.7Z M689.8,1558.4 L700.4,1576.7 L679.2,1576.7Z M743.9,1558.4 L754.4,1576.7 L733.3,1576.7Z"/>
<path d="M109,6 H945.3" fill="none" stroke="#000" stroke-width="2.2"/>
<path d="M943.9,5 V734" fill="none" stroke="#000" stroke-width="2.9"/>
<path d="M111,5 V734 H945.35" fill="none" stroke="#000" stroke-width="4" stroke-linejoin="miter"/>
<path d="M109,875 H945.3" fill="none" stroke="#000" stroke-width="2.2"/>
<path d="M943.9,874 V1604" fill="none" stroke="#000" stroke-width="2.9"/>
<path d="M111,874 V1604 H945.35" fill="none" stroke="#000" stroke-width="4" stroke-linejoin="miter"/>
<path d="M99.6,38.2 H110 M99.6,369.5 H110 M99.6,700.7 H110 M99.6,907.8 H110 M99.6,1239.1 H110 M99.6,1570.4 H110 M149,735 V745.5 M271,735 V745.5 M393,735 V745.5 M515,735 V745.5 M637,735 V745.5 M759,735 V745.5 M881,735 V745.5 M149.2,1605 V1615 M257.3,1605 V1615 M365.4,1605 V1615 M473.6,1605 V1615 M581.7,1605 V1615 M689.8,1605 V1615 M797.9,1605 V1615 M906,1605 V1615" stroke="#111" stroke-width="3.6" fill="none"/>
<g font-family="'Liberation Serif', 'Times New Roman', serif" font-weight="bold" fill="#000">
<g font-size="33.7" text-anchor="end">
<text x="92" y="51.4">1.0</text>
<text x="92" y="382.7">0.5</text>
<text x="92" y="713.9">0.0</text>
<text x="92" y="921">1.0</text>
<text x="92" y="1252.3">0.5</text>
<text x="92" y="1583.6">0.0</text>
</g><g font-size="33.3" text-anchor="middle">
<text x="149" y="778">40</text>
<text x="271" y="778">50</text>
<text x="393" y="778">60</text>
<text x="515" y="778">70</text>
<text x="637" y="778">80</text>
<text x="759" y="778">90</text>
<text x="881" y="778">100</text>
<text x="149.2" y="1646.8">0</text>
<text x="257.3" y="1646.8">2</text>
<text x="365.4" y="1646.8">4</text>
<text x="473.6" y="1646.8">6</text>
<text x="581.7" y="1646.8">8</text>
<text x="689.8" y="1646.8">10</text>
<text x="797.9" y="1646.8">12</text>
<text x="906" y="1646.8">14</text>
</g><g font-size="38.5" text-anchor="middle" lengthAdjust="spacingAndGlyphs">
<text x="526.6" y="822.4" textLength="267" lengthAdjust="spacingAndGlyphs">Fork length (cm)</text>
<text x="526.3" y="1691.8" textLength="180" lengthAdjust="spacingAndGlyphs">Age (years)</text>
<text transform="translate(32,370.7) rotate(-90)" textLength="303" lengthAdjust="spacingAndGlyphs">Proportion mature</text>
<text transform="translate(32,1239.6) rotate(-90)" textLength="303" lengthAdjust="spacingAndGlyphs">Proportion mature</text>
</g></g>
<g font-family="'Liberation Sans', Arial, sans-serif" font-weight="bold" font-size="44" fill="#000">
<text transform="translate(133.3,53) scale(0.95,1)">A</text><text transform="translate(132.9,921.2) scale(0.95,1)">B</text></g>
</svg>
</body></html>
